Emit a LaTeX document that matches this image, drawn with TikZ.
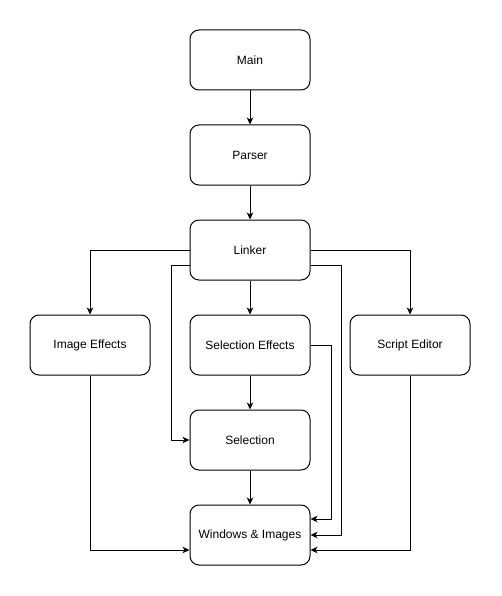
\documentclass[tikz,border=0pt]{standalone}
\usepackage{fontspec}
\setmainfont{Liberation Sans}
\usetikzlibrary{arrows.meta}
\begin{document}
\begin{tikzpicture}[x=1pt,y=-1pt,
  box/.style={draw,line width=1pt,rounded corners=9pt,minimum width=120pt,minimum height=60pt,inner sep=0pt,font=\fontsize{12}{14}\selectfont},
  conn/.style={line width=1pt,-{Stealth[length=7pt,width=6.5pt,inset=2pt]}}]
\fill[white] (0,0) rectangle (501,596);
\useasboundingbox (0,0) rectangle (501,596);
\node[box] (main) at (250,60) {Main};
\node[box] (parser) at (250,155) {Parser};
\node[box] (linker) at (250,250) {Linker};
\node[box] (imgfx) at (90,345) {Image Effects};
\node[box] (selfx) at (250,345) {Selection Effects};
\node[box] (script) at (410,345) {Script Editor};
\node[box] (sel) at (250,440) {Selection};
\node[box] (win) at (250,535) {Windows \& Images};
\draw[conn] (main) -- (parser);
\draw[conn] (parser) -- (linker);
\draw[conn] (linker) -- (selfx);
\draw[conn] (selfx) -- (sel);
\draw[conn] (sel) -- (win);
\draw[conn] (linker.west) -| (imgfx.north);
\draw[conn] (linker.east) -| (script.north);
\draw[conn] (linker.west |- 0,265) -- (171,265) |- (sel.west);
\draw[conn] (linker.east |- 0,265) -- (341,265) |- (win.east);
\draw[conn] (selfx.east) -- (331,345) |- (win.east |- 0,519);
\draw[conn] (imgfx.south) |- (win.west |- 0,550);
\draw[conn] (script.south) |- (win.east |- 0,550);
\end{tikzpicture}
\end{document}
